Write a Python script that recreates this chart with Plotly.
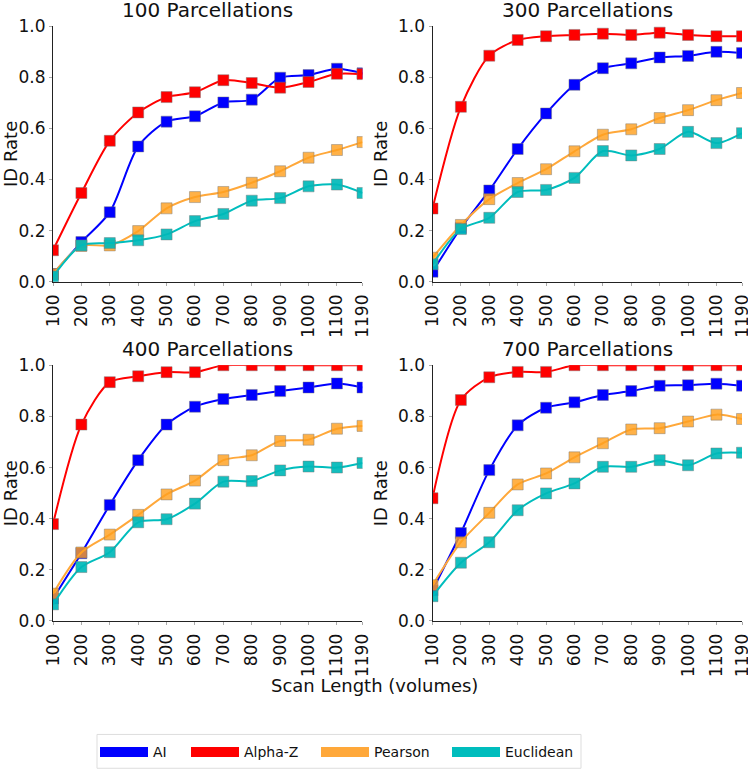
import plotly.graph_objects as go
from plotly.subplots import make_subplots

scan_lengths = [100, 200, 300, 400, 500, 600, 700, 800, 900, 1000, 1100, 1190]
tick_labels = ["100", "200", "300", "400", "500", "600", "700", "800", "900", "1000", "1100", "1190"]
panel_titles = ["100 Parcellations", "300 Parcellations", "400 Parcellations", "700 Parcellations"]
methods = ["AI", "Alpha-Z", "Pearson", "Euclidean"]

# 100 Parcellations
p100_ai = [0.03, 0.155, 0.272, 0.529, 0.626, 0.647, 0.701, 0.712, 0.798, 0.808, 0.833, 0.815]
p100_alphaz = [0.123, 0.347, 0.551, 0.662, 0.722, 0.741, 0.788, 0.777, 0.759, 0.781, 0.813, 0.812]
p100_pearson = [0.03, 0.14, 0.142, 0.198, 0.287, 0.331, 0.351, 0.387, 0.432, 0.485, 0.515, 0.546]
p100_euclid = [0.02, 0.142, 0.151, 0.162, 0.185, 0.237, 0.265, 0.317, 0.327, 0.373, 0.380, 0.347]

# 300 Parcellations
p300_ai = [0.039, 0.21, 0.357, 0.519, 0.658, 0.770, 0.835, 0.854, 0.877, 0.883, 0.899, 0.894]
p300_alphaz = [0.286, 0.684, 0.884, 0.945, 0.960, 0.965, 0.970, 0.965, 0.974, 0.965, 0.960, 0.960]
p300_pearson = [0.094, 0.222, 0.323, 0.386, 0.440, 0.510, 0.575, 0.596, 0.640, 0.671, 0.710, 0.738]
p300_euclid = [0.068, 0.206, 0.250, 0.351, 0.359, 0.406, 0.511, 0.494, 0.519, 0.586, 0.542, 0.581]

# 400 Parcellations
p400_ai = [0.088, 0.265, 0.454, 0.629, 0.768, 0.838, 0.868, 0.884, 0.899, 0.913, 0.929, 0.913]
p400_alphaz = [0.379, 0.768, 0.934, 0.957, 0.973, 0.973, 1.0, 1.0, 1.0, 1.0, 1.0, 1.0]
p400_pearson = [0.107, 0.268, 0.338, 0.415, 0.495, 0.549, 0.629, 0.648, 0.704, 0.709, 0.752, 0.763]
p400_euclid = [0.065, 0.211, 0.269, 0.386, 0.398, 0.459, 0.545, 0.547, 0.589, 0.604, 0.600, 0.618]

# 700 Parcellations
p700_ai = [0.12, 0.344, 0.590, 0.765, 0.834, 0.855, 0.884, 0.899, 0.920, 0.922, 0.928, 0.920]
p700_alphaz = [0.480, 0.864, 0.953, 0.974, 0.974, 1.0, 1.0, 1.0, 1.0, 1.0, 1.0, 1.0]
p700_pearson = [0.140, 0.308, 0.423, 0.534, 0.577, 0.640, 0.695, 0.749, 0.754, 0.780, 0.807, 0.790]
p700_euclid = [0.097, 0.228, 0.308, 0.433, 0.499, 0.538, 0.603, 0.603, 0.629, 0.609, 0.655, 0.658]

panels = [
    [p100_ai, p100_alphaz, p100_pearson, p100_euclid],
    [p300_ai, p300_alphaz, p300_pearson, p300_euclid],
    [p400_ai, p400_alphaz, p400_pearson, p400_euclid],
    [p700_ai, p700_alphaz, p700_pearson, p700_euclid],
]

line_colors = ["#0000FF", "#FF0000", "#FFA83A", "#00BDBD"]
marker_colors = ["rgba(0,0,255,1)", "rgba(255,0,0,1)", "rgba(255,160,30,0.82)", "rgba(0,185,185,0.92)"]

FONT = "DejaVu Sans"
W, H = 748, 774
ML, MR, MT, MB = 53, 6, 26, 150
PW, PH = W - ML - MR, H - MT - MB


def px_x(p):
    return (p - ML) / PW


def px_y(p):
    return (H - MB - p) / PH


fig = make_subplots(rows=2, cols=2, subplot_titles=panel_titles,
                    horizontal_spacing=0.1016, vertical_spacing=0.1404)

for i, series in enumerate(panels):
    r, c = i // 2 + 1, i % 2 + 1
    for j, ys in enumerate(series):
        fig.add_trace(go.Scatter(
            x=scan_lengths, y=ys, mode="lines+markers",
            line=dict(color=line_colors[j], width=2, shape="spline", smoothing=0.8),
            marker=dict(symbol="square", size=11, color=marker_colors[j],
                        line=dict(color="rgba(120,120,120,0.45)", width=1)),
            showlegend=False, name=methods[j]), row=r, col=c)

legend_ids = ["legend", "legend2", "legend3", "legend4"]
legend_left_px = [95, 186, 316, 447]
for j, m in enumerate(methods):
    fig.add_trace(go.Scatter(x=[None], y=[None], mode="lines", name=m,
                             line=dict(color=line_colors[j], width=10),
                             showlegend=True, legend=legend_ids[j]), row=1, col=1)

fig.update_xaxes(range=[100, 1190], tickvals=scan_lengths, ticktext=tick_labels,
                 tickangle=-90, showgrid=False, zeroline=False, showline=True,
                 linecolor="#222222", linewidth=1, ticks="outside", ticklen=3,
                 tickcolor="#AAAAAA", tickwidth=1, ticklabelstandoff=2,
                 automargin=False, ticklabeloverflow="allow",
                 tickfont=dict(family=FONT, size=17, color="#111111"))
fig.update_yaxes(range=[0, 1.0], tickvals=[0, 0.2, 0.4, 0.6, 0.8, 1.0],
                 ticktext=["0.0", "0.2", "0.4", "0.6", "0.8", "1.0"],
                 showgrid=False, zeroline=False, showline=True,
                 linecolor="#222222", linewidth=1, ticks="outside", ticklen=3,
                 tickcolor="#AAAAAA", tickwidth=1,
                 automargin=False, ticklabeloverflow="allow",
                 tickfont=dict(family=FONT, size=17, color="#111111"),
                 title=dict(text="ID Rate", font=dict(family=FONT, size=18, color="#111111"),
                            standoff=5))

for ann in fig.layout.annotations:
    ann.font = dict(family=FONT, size=20, color="#111111")
    ann.yshift = 2

fig.add_annotation(text="Scan Length (volumes)", xref="paper", yref="paper",
                   x=px_x(374), y=px_y(689), xanchor="center", yanchor="middle",
                   showarrow=False, font=dict(family=FONT, size=18, color="#111111"))

# legend frame
fig.add_shape(type="rect", xref="paper", yref="paper",
              x0=px_x(97), x1=px_x(581), y0=px_y(738), y1=px_y(772),
              line=dict(color="#DDDDDD", width=1), fillcolor="rgba(0,0,0,0)")

legend_layout = {}
for lid, lx in zip(legend_ids, legend_left_px):
    legend_layout[lid] = dict(orientation="h", x=px_x(lx), y=px_y(756),
                              xanchor="left", yanchor="middle",
                              borderwidth=0, bgcolor="rgba(0,0,0,0)",
                              font=dict(family=FONT, size=14, color="#111111"),
                              itemwidth=48)

fig.update_layout(
    width=W, height=H,
    margin=dict(l=ML, r=MR, t=MT, b=MB),
    plot_bgcolor="white", paper_bgcolor="white",
    font=dict(family=FONT, color="#111111"),
    **legend_layout,
)

fig.write_html("out.html")
